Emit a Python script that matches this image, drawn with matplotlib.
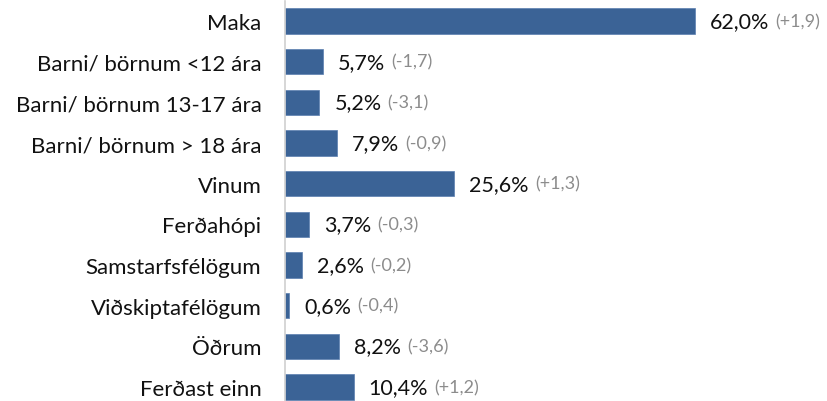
import matplotlib
matplotlib.use("Agg")
import matplotlib.pyplot as plt
import matplotlib.transforms as mtransforms

categories = ["Maka", "Barni/ börnum <12 ára", "Barni/ börnum 13-17 ára",
              "Barni/ börnum > 18 ára", "Vinum", "Ferðahópi",
              "Samstarfsfélögum", "Viðskiptafélögum", "Öðrum", "Ferðast einn"]
values = [62.0, 5.7, 5.2, 7.9, 25.6, 3.7, 2.6, 0.6, 8.2, 10.4]
changes = ["+1,9", "-1,7", "-3,1", "-0,9", "+1,3", "-0,3", "-0,2", "-0,4", "-3,6", "+1,2"]

plt.rcParams['font.family'] = ['Lato', 'DejaVu Sans']

fig = plt.figure(figsize=(8.28, 4.02), dpi=100)
ax = fig.add_axes([285/828, -6.4/402, 1 - 285/828, 406.7/402])

y = list(range(len(categories)))
ax.barh(y, values, height=0.62, color="#3B6396", edgecolor="#5a7fb0", linewidth=0.5)
ax.set_xlim(0, 82.1)
ax.set_ylim(len(categories) - 0.5, -0.5)

ax.set_yticks(y)
ax.set_yticklabels(categories, fontsize=16, color="#111111")
ax.tick_params(axis='y', length=0, pad=17)
ax.set_xticks([])
for s in ["top", "right", "bottom"]:
    ax.spines[s].set_visible(False)
ax.spines["left"].set_color("#d0d0d0")
ax.spines["left"].set_linewidth(1.2)

fig.canvas.draw()
r = fig.canvas.get_renderer()
for i, (v, c) in enumerate(zip(values, changes)):
    off = mtransforms.offset_copy(ax.transData, fig=fig, x=15, y=0, units='dots')
    t = ax.text(v, i, f"{v:.1f}%".replace(".", ","), transform=off,
                va="center", ha="left", fontsize=15.5, color="#111111")
    bb = t.get_window_extent(renderer=r)
    ax.annotate(f"({c})", xy=(bb.x1, (bb.y0 + bb.y1) / 2), xycoords='figure pixels',
                xytext=(6, 0), textcoords='offset pixels',
                va="center", ha="left", fontsize=13, color="#8c8c8c")

fig.savefig("out.png", dpi=100)
